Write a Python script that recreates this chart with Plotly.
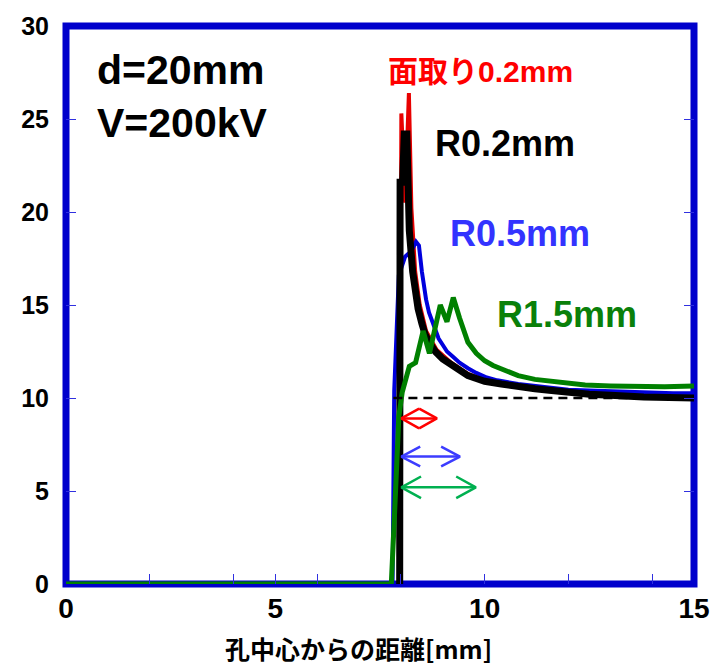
import plotly.graph_objects as go

# Electric field along the surface vs. distance from the hole centre
# (hole diameter d=20mm, applied voltage V=200kV)

chamfer_x = [7.97, 8.01, 8.10, 8.19, 8.25, 8.34, 8.45, 8.60, 8.85, 9.20, 9.60, 10.0, 10.8, 11.6, 12.5, 13.8, 15.0]
chamfer_y = [0.0, 25.3, 20.5, 26.4, 20.2, 16.8, 15.0, 13.6, 12.6, 11.9, 11.3, 10.95, 10.6, 10.4, 10.25, 10.1, 10.05]

r05_x = [0.0, 7.80, 7.84, 7.95, 8.10, 8.25, 8.36, 8.43, 8.50, 8.55, 8.60, 8.67, 8.75, 8.82, 8.90, 9.00, 9.10,
         9.25, 9.40, 9.60, 9.80, 10.05, 10.3, 10.8, 11.5, 12.0, 12.5, 13.5, 14.5, 15.0]
r05_y = [0.0, 0.0, 10.4, 16.6, 17.6, 17.9, 18.4, 18.2, 16.8, 16.0, 15.3, 14.6, 14.1, 13.6, 13.2, 12.85, 12.5,
         12.2, 11.9, 11.6, 11.35, 11.1, 10.95, 10.75, 10.55, 10.45, 10.4, 10.3, 10.25, 10.25]

r02_x = [7.97, 7.98, 8.04, 8.08, 8.14, 8.20, 8.28, 8.35, 8.41, 8.50, 8.58, 8.70, 8.82, 9.00, 9.20, 9.40, 9.60,
         9.80, 10.0, 10.4, 10.8, 11.2, 11.6, 12.0, 12.5, 13.0, 13.8, 15.0]
r02_y = [0.0, 21.6, 21.6, 24.2, 24.2, 19.0, 16.8, 15.6, 14.8, 14.0, 13.4, 12.9, 12.5, 12.1, 11.8, 11.45, 11.2,
         11.05, 10.9, 10.75, 10.6, 10.5, 10.4, 10.3, 10.2, 10.15, 10.05, 10.0]

r15_x = [0.0, 7.77, 7.85, 7.90, 7.95, 8.03, 8.20, 8.35, 8.53, 8.68, 8.94, 9.10, 9.25, 9.40, 9.60, 9.80, 10.0,
         10.2, 10.4, 10.6, 10.8, 11.2, 11.6, 12.0, 12.4, 13.0, 13.6, 14.3, 15.0]
r15_y = [0.0, 0.0, 3.9, 6.5, 9.0, 10.3, 11.7, 11.9, 13.6, 12.4, 15.0, 14.1, 15.4, 14.3, 13.0, 12.4, 12.0,
         11.75, 11.55, 11.35, 11.2, 11.0, 10.9, 10.8, 10.7, 10.65, 10.6, 10.6, 10.65]

# reference field level (dashed) and where it starts
ref_level = 10.0
ref_start = 7.82

# enhanced-field widths: (start, end, height) for chamfer, R0.5, R1.5
span_chamfer = (8.01, 8.86, 8.9)
span_r05 = (8.01, 9.41, 6.85)
span_r15 = (8.01, 9.79, 5.2)

x_ticks = [0, 2, 4, 5, 6, 8, 10, 12, 14, 15]
x_labels = ["0", "", "", "5", "", "", "10", "", "", "15"]
y_ticks = [0, 5, 10, 15, 20, 25, 30]

BLUE_FRAME = "#0000CC"
LATIN = "Liberation Sans, Arial, sans-serif"
CJK = "Liberation Sans, Noto Sans CJK JP, sans-serif"


def double_arrow(span, head_len, head_half):
    x0, x1, y = span
    xs = [x0, x1, None,
          x0 + head_len, x0, x0 + head_len, None,
          x1 - head_len, x1, x1 - head_len]
    ys = [y, y, None,
          y + head_half, y, y - head_half, None,
          y + head_half, y, y - head_half]
    return xs, ys


fig = go.Figure()

fig.add_trace(go.Scatter(x=chamfer_x, y=chamfer_y, mode="lines",
                         line=dict(color="#E80000", width=4), name="面取り0.2mm"))
fig.add_trace(go.Scatter(x=r05_x, y=r05_y, mode="lines",
                         line=dict(color="#0000DD", width=4), name="R0.5mm"))
fig.add_trace(go.Scatter(x=r02_x, y=r02_y, mode="lines",
                         line=dict(color="#000000", width=7), name="R0.2mm"))
fig.add_trace(go.Scatter(x=r15_x, y=r15_y, mode="lines",
                         line=dict(color="#008000", width=5), name="R1.5mm"))

fig.add_trace(go.Scatter(x=[ref_start, 15.0], y=[ref_level, ref_level], mode="lines",
                         line=dict(color="#000000", width=2.5, dash="9px,6px")))

cx, cy = double_arrow(span_chamfer, (span_chamfer[1] - span_chamfer[0]) / 2, 0.53)
fig.add_trace(go.Scatter(x=cx, y=cy, mode="lines", line=dict(color="#FF0000", width=2.5)))
bx, by = double_arrow(span_r05, 0.45, 0.53)
fig.add_trace(go.Scatter(x=bx, y=by, mode="lines", line=dict(color="#3C3CFF", width=2.5)))
gx, gy = double_arrow(span_r15, 0.47, 0.58)
fig.add_trace(go.Scatter(x=gx, y=gy, mode="lines", line=dict(color="#00B050", width=2.5)))

# frame drawn centred on the plot edges, beneath the curves
fig.add_shape(type="rect", xref="paper", yref="paper", x0=0, x1=1, y0=0, y1=1,
              line=dict(color=BLUE_FRAME, width=7), layer="below")

texts = [
    ("d=20mm", 0.046, 0.922, "#000000", 41, LATIN),
    ("V=200kV", 0.046, 0.826, "#000000", 41, LATIN),
    ("面取り0.2mm", 0.51, 0.918, "#FF0000", 30, CJK),
    ("R0.2mm", 0.585, 0.79, "#000000", 36, LATIN),
    ("R0.5mm", 0.609, 0.628, "#3333FF", 36, LATIN),
    ("R1.5mm", 0.683, 0.483, "#0A800A", 36, LATIN),
]
for txt, x, y, col, size, fam in texts:
    fig.add_annotation(text=f"<b>{txt}</b>", xref="paper", yref="paper", x=x, y=y,
                       xanchor="left", yanchor="middle", showarrow=False,
                       font=dict(family=fam, size=size, color=col))

fig.add_annotation(text="<b>孔中心からの距離[mm]</b>", xref="paper", yref="paper",
                   x=0.465, y=-0.115, xanchor="center", yanchor="middle", showarrow=False,
                   font=dict(family="Noto Sans CJK JP, sans-serif", size=25, color="#000000"))

fig.update_layout(
    width=722, height=668,
    margin=dict(l=66, r=25, t=19, b=84),
    paper_bgcolor="white", plot_bgcolor="white",
    showlegend=False,
    xaxis=dict(range=[0, 15], tickvals=x_ticks, ticktext=x_labels,
               ticks="inside", ticklen=10, tickwidth=1, tickcolor="#3030E0",
               showgrid=False, zeroline=False, showline=False, ticklabelstandoff=5,
               tickfont=dict(family=LATIN, size=28, color="#000000", weight="bold")),
    yaxis=dict(range=[0, 30], tickvals=y_ticks,
               ticks="inside", ticklen=10, tickwidth=1, tickcolor="#3030E0",
               showgrid=False, zeroline=False, showline=False, mirror="ticks",
               ticklabelstandoff=16,
               tickfont=dict(family=LATIN, size=25, color="#000000", weight="bold")),
)

fig.write_html("out.html")
